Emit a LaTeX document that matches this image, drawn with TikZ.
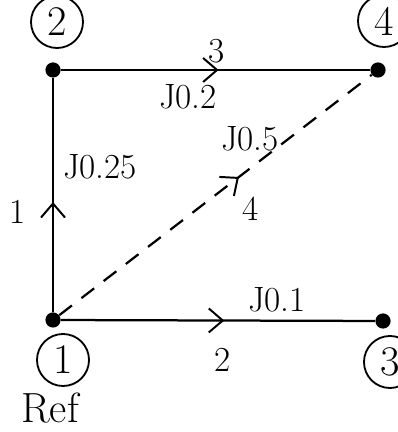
\documentclass[tikz,border=0pt]{standalone}
\usepackage{tikz}
\usetikzlibrary{arrows.meta, decorations.markings}

\begin{document}
\begin{tikzpicture}[
  x=0.025cm, y=0.025cm,
  dot/.style={circle, fill=black, inner sep=0pt, minimum size=0.38cm},
  numcircle/.style={circle, draw, line width=1.3pt, inner sep=0pt, minimum size=1.3cm, font=\fontsize{30}{34}\selectfont},
  lbl/.style={font=\fontsize{25}{30}\selectfont, inner sep=1pt},
  branch/.style={line width=1.6pt},
  midarrow/.style={decoration={markings, mark=at position #1 with {\arrow{Straight Barb[length=3.5mm, width=6mm, line width=1.4pt]}}}, postaction={decorate}}
]
\useasboundingbox (0,0) rectangle (398,432);

% nodes of the graph
\node[dot] (n1) at (53,112) {};
\node[dot] (n2) at (53,362) {};
\node[dot] (n3) at (383,111) {};
\node[dot] (n4) at (378,362) {};

% node numbers
\node[numcircle] (c1) at (63,72) {1};
\node[numcircle] (c2) at (57,410) {2};
\node[numcircle] (c3) at (390,70) {3};
\node[numcircle] (c4) at (384,411) {4};
\node[lbl, font=\fontsize{30}{34}\selectfont] (ref) at (50,24) {Ref};

% branches
\draw[branch, midarrow=0.47] (n1) -- (n2);
\draw[branch, midarrow=0.51] (n2) -- (n4);
\draw[branch, midarrow=0.52] (n1) -- (n3);
\draw[branch, dash pattern=on 0.4cm off 0.3cm, midarrow=0.575] (n1) -- (n4);

% branch labels
\node[lbl] (b1) at (18,220) {1};
\node[lbl] (z1) at (100,265) {J0.25};
\node[lbl] (b3) at (217,381) {3};
\node[lbl] (z3) at (188,335) {J0.2};
\node[lbl] (z4) at (250,293) {J0.5};
\node[lbl] (b4) at (251,223) {4};
\node[lbl] (z2) at (277,132) {J0.1};
\node[lbl] (b2) at (223,72) {2};
\end{tikzpicture}
\end{document}
